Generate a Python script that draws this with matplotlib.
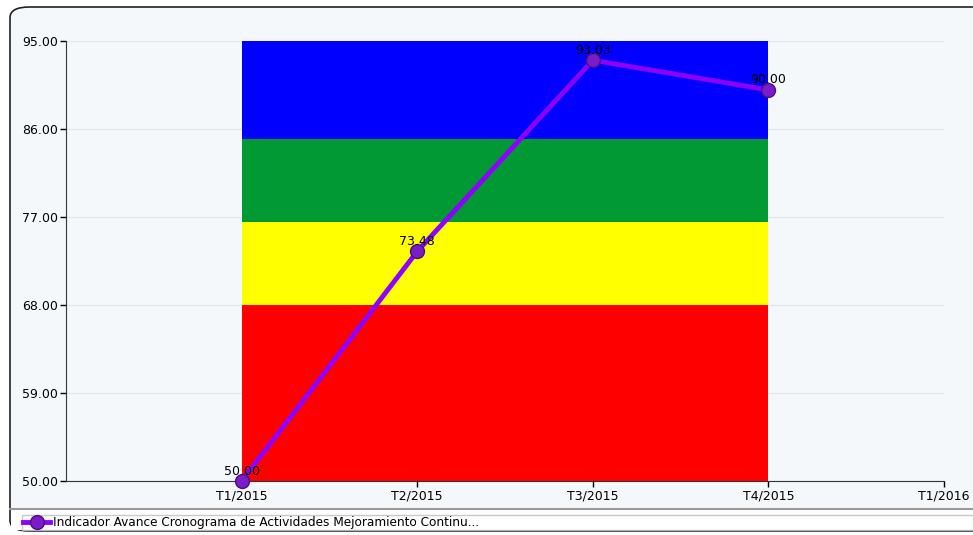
import matplotlib.pyplot as plt
from matplotlib.patches import FancyBboxPatch
from matplotlib.ticker import FormatStrFormatter

# data
periods = ['T1/2015', 'T2/2015', 'T3/2015', 'T4/2015', 'T1/2016']
values = [50.00, 73.48, 93.03, 90.00]
band_edges = [50, 68, 76.5, 85, 95]
band_colors = ['#FF0000', '#FFFF00', '#009933', '#0000FF']
y_ticks = [50, 59, 68, 77, 86, 95]
series_name = 'Indicador Avance Cronograma de Actividades Mejoramiento Continu...'

W, H = 973, 535
fig = plt.figure(figsize=(W / 100, H / 100), dpi=100, facecolor='white')

# outer panel with rounded border
panel = FancyBboxPatch((10 / W, 4 / H), (W + 20) / W, (H - 11) / H,
                       boxstyle='round,pad=0,rounding_size=0.02',
                       transform=fig.transFigure, facecolor='#F5F8FB',
                       edgecolor='#222222', linewidth=1.2, zorder=-2)
fig.patches.append(panel)

# separator + legend strip
fig.patches.append(plt.Rectangle((11 / W, 5 / H), 1, 21 / H, transform=fig.transFigure,
                                 facecolor='white', edgecolor='none', zorder=-1))
fig.add_artist(plt.Line2D([10 / W, 1], [26 / H, 26 / H], transform=fig.transFigure,
                          color='#999999', lw=1.5))

ax = fig.add_axes([66 / W, 54 / H, (944 - 66) / W, (481 - 41) / H])
ax.set_facecolor('none')

x = list(range(len(values)))

# colour bands between first and last period
for i in range(len(band_colors)):
    ax.fill_between([x[0], x[-1]], band_edges[i], band_edges[i + 1],
                    color=band_colors[i], linewidth=0, zorder=1)

ax.plot(x, values, color='#8E00FF', lw=3.5, marker='o', ms=10,
        mfc='#7A1CC8', mec='#4A1080', mew=1, zorder=3, clip_on=False,
        label=series_name)

for xi, v in zip(x, values):
    ax.annotate(f'{v:.2f}', (xi, v), xytext=(0, 2.5), textcoords='offset points',
                ha='center', va='bottom', fontsize=9, color='black', zorder=4)

ax.set_xlim(-1, 4)
ax.set_ylim(50, 95)
ax.set_xticks(range(len(periods)))
ax.set_xticklabels(periods)
ax.set_yticks(y_ticks)
ax.yaxis.set_major_formatter(FormatStrFormatter('%.2f'))
ax.tick_params(labelsize=9, length=4, width=1, colors='black', pad=2)
ax.grid(axis='y', color='#E6E6E6', lw=1, zorder=0)
ax.set_axisbelow(True)
for s in ['top', 'right']:
    ax.spines[s].set_visible(False)
for s in ['left', 'bottom']:
    ax.spines[s].set_color('#333333')

leg = fig.legend(handles=ax.get_lines(), loc='lower left',
                 bbox_to_anchor=(22 / W, 5 / H, (W - 22) / W, 20 / H),
                 mode='expand', frameon=True, fancybox=False, fontsize=8.7,
                 handlelength=2.2, handletextpad=0.3, borderpad=0.1,
                 borderaxespad=0)
leg.get_frame().set_edgecolor('#BBBBBB')
leg.get_frame().set_linewidth(1)

fig.savefig('out.png', dpi=100)
